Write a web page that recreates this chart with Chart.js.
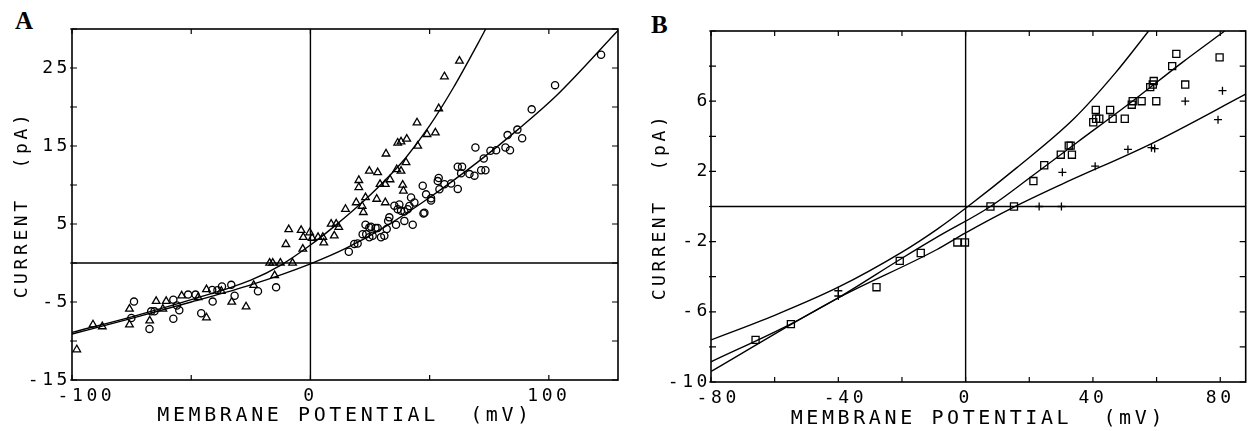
<!DOCTYPE html>
<html>
<head>
<meta charset="utf-8">
<script src="https://cdn.jsdelivr.net/npm/chart.js@4"></script>
<style>
  html, body { margin: 0; padding: 0; background: #fff; width: 1249px; height: 431px; overflow: hidden; }
  canvas { position: absolute; top: 0; }
  .tag { position: absolute; font: bold 25px/25px "Liberation Serif", "DejaVu Serif", serif; color: #000; }
</style>
</head>
<body>
<div class="tag" style="left:15px;top:8px">A</div>
<div class="tag" style="left:651px;top:12px">B</div>
<canvas id="chart-a" style="left:0" width="625" height="431"></canvas>
<canvas id="chart-b" style="left:625px" width="627" height="431"></canvas>
<script>
// --- panel A: membrane potential (mV) vs current (pA) ---
const aTriangles = [
  [-98, -11.1], [-91.2, -7.9], [-87.3, -8.15], [-75.9, -5.9], [-75.9, -7.9], [-67.4, -7.4],
  [-64.7, -4.9], [-61.9, -5.9], [-60.5, -4.9], [-54, -4.2], [-47.1, -4.4], [-43.6, -3.4],
  [-43.6, -7.0], [-37.4, -3.6], [-33, -5.0], [-27, -5.6], [-23.8, -2.85], [-15, -1.6],
  [-17.1, 0], [-15.8, 0], [-12.6, 0], [-7.5, 0], [-10.3, 2.4], [-9.1, 4.3], [-3.9, 4.2],
  [-3.2, 1.8], [-3.0, 3.3], [-0.3, 3.9], [0.7, 3.2], [3.2, 3.3], [5.6, 2.6], [5.2, 3.3],
  [8.7, 5.0], [10.8, 5.0], [11.9, 4.6], [10, 3.5], [14.7, 6.9], [19.2, 7.75], [22.2, 6.5],
  [21.7, 7.3], [20.3, 10.6], [20.3, 9.7], [24.7, 11.8], [23.1, 8.4], [27.8, 8.2], [28.2, 11.6],
  [29.2, 10.1], [31.4, 7.75], [31.4, 10.1], [33.4, 10.7], [31.7, 14.0], [36.2, 12.0], [38, 11.8],
  [38.7, 10.0], [39, 9.25], [36.6, 15.4], [38, 15.55], [40.4, 15.9], [40.1, 12.9], [45, 15.0],
  [48.9, 16.5], [52.4, 16.7], [44.7, 18.0], [53.8, 19.8], [56.2, 23.9], [62.5, 25.9]
];
const aCircles = [
  [-74, -4.95], [-75.1, -7.05], [-67.5, -8.45], [-66.8, -6.2], [-65.4, -6.2], [-57.5, -7.15],
  [-57.5, -4.7], [-55, -6.05], [-56, -5.45], [-51.3, -4.05], [-48.2, -4.05], [-45.8, -6.45],
  [-41, -4.95], [-41.2, -3.45], [-37.1, -3.0], [-33.2, -2.8], [-31.8, -4.2], [-39, -3.5],
  [-22, -3.63], [-14.4, -3.12],
  [16.1, 1.45], [18.4, 2.45], [19.8, 2.5], [21.9, 3.7], [23.4, 3.7], [23.1, 4.9], [24.7, 4.55],
  [25.4, 4.65], [27.3, 4.5], [28.2, 4.5], [24.7, 3.3], [26.1, 3.5], [29.6, 3.3], [31, 3.5],
  [32, 4.35], [32.6, 5.4], [33.1, 5.85], [35.9, 4.9], [35.2, 7.35], [36.6, 6.9], [38, 6.7],
  [39.4, 6.6], [40.8, 6.9], [39.4, 5.4], [42.9, 4.9], [42.2, 8.4], [43.6, 7.75], [37.3, 7.5],
  [41.5, 7.3], [47.4, 6.35], [50.6, 8.0], [47.1, 9.9], [47.8, 6.45], [48.5, 8.8], [50.6, 8.3],
  [53.4, 10.5], [54.1, 9.45], [56.2, 10.1], [59, 10.2], [61.8, 9.5], [61.8, 12.35], [63.6, 12.35],
  [66.7, 11.4], [68.8, 11.2], [69.2, 14.8], [63.2, 11.5], [53.8, 10.9], [71.6, 11.9], [73.4, 11.9],
  [72.7, 13.4], [75.5, 14.4], [77.9, 14.45], [81.8, 14.8], [83.7, 14.45], [82.7, 16.4],
  [86.8, 17.1], [88.8, 16.0], [92.8, 19.7], [102.6, 22.8], [121.9, 26.7]
];
const aTriangleFit = [
  [-100, -8.9], [-75, -6.9], [-50, -4.7], [-25, -2.2], [-12, -0.2], [0, 2.3], [10, 4.7],
  [20, 7.3], [30, 10.2], [40, 13.5], [50, 17.6], [60, 22.5], [70, 28.0], [73.5, 30]
];
const aCircleFit = [
  [-100, -9.1], [-75, -7.1], [-50, -5.0], [-25, -2.8], [0, -0.1], [15, 1.9], [30, 4.4],
  [50, 8.4], [70, 12.9], [87, 17.1], [103, 21.4], [129, 29.8]
];

// --- panel B ---
const bSquares = [
  [-66, -7.6], [-54.9, -6.7], [-28, -4.6], [-20.7, -3.1], [-14.1, -2.65], [-2.6, -2.05], [-0.2, -2.05],
  [7.8, 0], [15.2, 0], [21.3, 1.45], [24.7, 2.35], [29.9, 2.95], [33.4, 2.95], [32.4, 3.47],
  [33, 3.47], [40.1, 4.8], [41, 5.0], [42, 5.0], [40.9, 5.5], [45.4, 5.5], [46.2, 5.0],
  [50, 5.0], [52.2, 5.8], [52.5, 6.0], [55.3, 6.0], [59.9, 6.0], [58, 6.8], [58.8, 6.95],
  [59.1, 7.15], [64.9, 8.0], [66.2, 8.7], [69, 6.95], [79.8, 8.5]
];
const bCrosses = [
  [-40, -4.8], [-40, -5.1], [23.1, 0], [30.1, 0], [30.4, 1.95], [40.7, 2.3], [51, 3.25],
  [58.4, 3.35], [59.4, 3.3], [69, 6.0], [80.7, 6.6], [79.3, 4.95]
];
const bFitSteep = [
  [-80, -7.6], [-60, -6.2], [-40, -4.6], [-20, -2.6], [-9, -1.3], [0, -0.1], [16, 2.2],
  [34, 5.0], [47, 7.6], [57.5, 10]
];
const bFitMiddle = [
  [-80, -8.85], [-55, -6.7], [-40, -5.2], [-20, -2.95], [-9, -1.75], [7.8, 0], [21, 1.75],
  [35, 3.65], [52.4, 6.0], [68, 8.2], [81.4, 10]
];
const bFitShallow = [
  [-80, -9.4], [-41, -5.3], [-9, -2.45], [0, -1.5], [15, -0.05], [30, 1.25], [58.6, 3.6], [88, 6.4]
];

const TICK_FONT = { family: 'DejaVu Sans Mono', size: 18 };
const X_TITLE_FONT = { family: 'DejaVu Sans Mono', size: 20 };
const Y_TITLE_FONT = { family: 'DejaVu Sans Mono', size: 18 };

const toXY = arr => arr.map(([x, y]) => ({ x, y }));

// frame, zero lines and inward tick marks, all placed through the chart's scales
const plotFrame = {
  id: 'plotFrame',
  beforeDraw(chart) { chart.ctx.letterSpacing = '3.6px'; },
  beforeDatasetsDraw(chart) {
    const { ctx, chartArea: a, scales: { x, y } } = chart;
    const x0 = x.getPixelForValue(0), y0 = y.getPixelForValue(0);
    ctx.save();
    ctx.strokeStyle = '#000';
    ctx.lineWidth = 1.4;
    ctx.beginPath();
    ctx.moveTo(x0, a.top); ctx.lineTo(x0, a.bottom);
    ctx.moveTo(a.left, y0); ctx.lineTo(a.right, y0);
    ctx.stroke();
    ctx.restore();
  },
  afterDatasetsDraw(chart) {
    const { ctx, chartArea: a, scales: { x, y } } = chart;
    ctx.save();
    ctx.strokeStyle = '#000';
    ctx.lineWidth = 1.6;
    ctx.strokeRect(a.left, a.top, a.right - a.left, a.bottom - a.top);
    ctx.lineWidth = 1.2;
    ctx.beginPath();
    x.ticks.forEach(t => {
      const px = x.getPixelForValue(t.value);
      ctx.moveTo(px, a.bottom); ctx.lineTo(px, a.bottom - 5);
      ctx.moveTo(px, a.top); ctx.lineTo(px, a.top + 5);
    });
    y.ticks.forEach(t => {
      const py = y.getPixelForValue(t.value);
      ctx.moveTo(a.left - 2, py); ctx.lineTo(a.left + 5, py);
      ctx.moveTo(a.right, py); ctx.lineTo(a.right - 6, py);
    });
    ctx.stroke();
    ctx.restore();
  }
};

function pointSet(data, style, radius) {
  return {
    data: toXY(data), showLine: false, pointStyle: style, pointRadius: radius,
    pointBorderWidth: 1.3, borderColor: '#000', backgroundColor: 'rgba(0,0,0,0)'
  };
}
function fitLine(data) {
  return {
    data: toXY(data), showLine: true, pointRadius: 0, borderWidth: 1.4,
    borderColor: '#000', backgroundColor: 'rgba(0,0,0,0)', cubicInterpolationMode: 'monotone'
  };
}

function makePanel(canvas, o) {
  return new Chart(canvas, {
    type: 'scatter',
    data: { datasets: o.datasets },
    options: {
      responsive: false,
      animation: false,
      devicePixelRatio: 1,
      layout: { padding: o.padding },
      plugins: { legend: { display: false }, tooltip: { enabled: false } },
      scales: {
        x: {
          type: 'linear', min: o.xMin, max: o.xMax,
          grid: { display: false, drawTicks: false }, border: { display: false },
          ticks: {
            stepSize: o.xStep, includeBounds: false, autoSkip: false, maxRotation: 0,
            padding: 6, color: '#000', font: TICK_FONT, callback: o.xLabel
          },
          title: { display: true, text: 'MEMBRANE POTENTIAL  (mV)', color: '#000', font: X_TITLE_FONT,
                   padding: { top: 0, bottom: o.xTitlePad } },
          afterFit: s => { s.height = o.xHeight; }
        },
        y: {
          type: 'linear', min: o.yMin, max: o.yMax,
          grid: { display: false, drawTicks: false }, border: { display: false },
          ticks: {
            stepSize: o.yStep, includeBounds: false, autoSkip: false,
            padding: o.yTickPad, color: '#000', font: TICK_FONT, callback: o.yLabel
          },
          title: { display: true, text: 'CURRENT  (pA)', color: '#000', font: Y_TITLE_FONT,
                   padding: { top: o.yTitlePad, bottom: 0 } },
          afterFit: s => { s.width = o.yWidth; }
        }
      }
    },
    plugins: [plotFrame]
  });
}

// negative x labels sit a little right of their tick in the original
const xLabelText = (v, lead) => (v < 0 ? lead + String(v) : String(v));

makePanel(document.getElementById('chart-a'), {
  datasets: [
    pointSet(aTriangles, 'triangle', 4.4),
    pointSet(aCircles, 'circle', 3.6),
    fitLine(aTriangleFit),
    fitLine(aCircleFit)
  ],
  padding: { top: 29, right: 7, left: 0, bottom: 0 },
  xMin: -100, xMax: 129, xStep: 50, xHeight: 51, xTitlePad: 3,
  yMin: -15, yMax: 30, yStep: 5, yWidth: 72, yTickPad: 1, yTitlePad: 12,
  xLabel: v => (v % 100 === 0 ? xLabelText(v, '  ') : ''),
  yLabel: v => ((v + 15) % 10 === 0 && v < 30 ? String(v) : '')
});

makePanel(document.getElementById('chart-b'), {
  datasets: [
    pointSet(bSquares, 'rect', 5),
    pointSet(bCrosses, 'cross', 4),
    fitLine(bFitSteep),
    fitLine(bFitMiddle),
    fitLine(bFitShallow)
  ],
  padding: { top: 31, right: 1, left: 0, bottom: 0 },
  xMin: -80, xMax: 88, xStep: 20, xHeight: 49, xTitlePad: 0,
  yMin: -10, yMax: 10, yStep: 2, yWidth: 86, yTickPad: 0, yTitlePad: 25,
  xLabel: v => ((v + 80) % 40 === 0 ? xLabelText(v, ' ') : ''),
  yLabel: v => ((v + 10) % 4 === 0 && v < 10 ? String(v) : '')
});
</script>
</body>
</html>
